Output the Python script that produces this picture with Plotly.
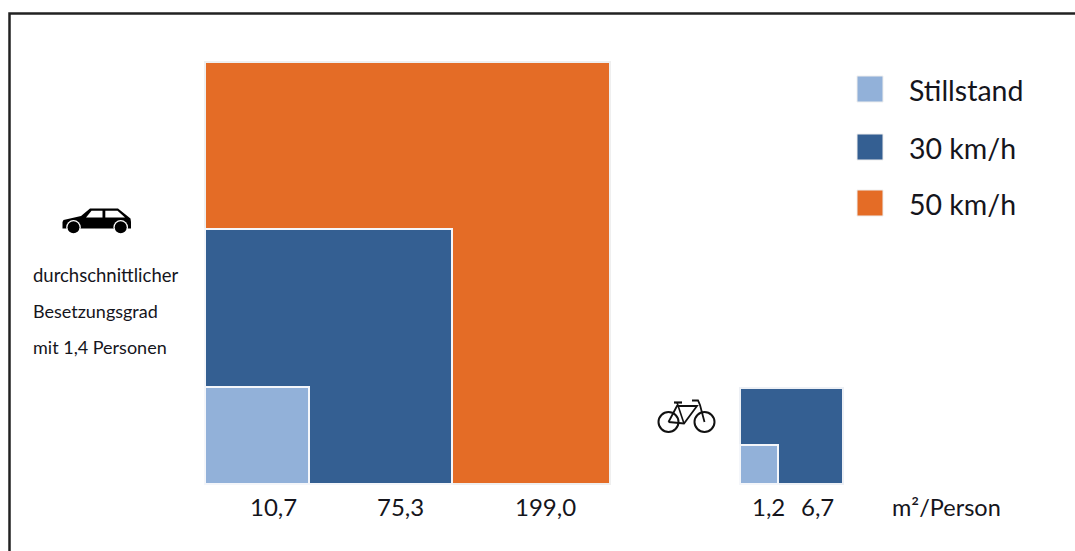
import plotly.graph_objects as go

W, H = 1075, 551

# Values printed in the chart (m2/person)
car_labels = [10.7, 75.3, 199.0]
bike_labels = [1.2, 6.7]
series_names = ["Stillstand", "30 km/h", "50 km/h"]
colors = ["#92B1D9", "#345F92", "#E46C26"]

# Drawn side lengths (chart units)
car_widths = [3.62, 8.62, 14.11]
car_heights = [3.24, 8.53, 14.11]
bike_widths = [1.32, 3.59]
bike_heights = [1.30, 3.21]
bike_start = 18.64

X_PER = 28.7
Y_PER = 29.9
X0_PX, Y0_PX = 205, 484


def px(x):
    return x / W


def py(y):
    return 1 - y / H


fig = go.Figure()


def add_square(x0, w, h, color, line_color, name):
    fig.add_trace(go.Bar(
        x=[x0 + w / 2], y=[h], width=[w], base=0, name=name,
        marker=dict(color=color, line=dict(color=line_color, width=2)),
        showlegend=False, hoverinfo="name",
    ))


add_square(0, car_widths[2], car_heights[2], colors[2], "#EFEFEF", series_names[2])
add_square(0, car_widths[1], car_heights[1], colors[1], "#F4F6FA", series_names[1])
add_square(0, car_widths[0], car_heights[0], colors[0], "#F4F6FA", series_names[0])
add_square(bike_start, bike_widths[1], bike_heights[1], colors[1], "#EDF0F5", series_names[1])
add_square(bike_start, bike_widths[0], bike_heights[0], colors[0], "#F4F6FA", series_names[0])

shapes = []
annotations = []


def text(s, x, y, size, anchor="left"):
    annotations.append(dict(
        text=s, x=px(x), y=py(y), xref="paper", yref="paper", showarrow=False,
        xanchor=anchor, yanchor="middle",
        font=dict(family="Lato, Carlito, sans-serif", size=size, color="#15151C"),
    ))


def poly(points, fill="black", line=None, lw=0, close=True):
    d = "M" + " L".join(f"{px(a)},{py(b)}" for a, b in points) + (" Z" if close else "")
    shapes.append(dict(
        type="path", path=d, xref="paper", yref="paper", layer="above",
        fillcolor=fill if close else "rgba(0,0,0,0)",
        line=dict(color=line or "rgba(0,0,0,0)", width=lw),
    ))


def circle(cx, cy, r, fill="rgba(0,0,0,0)", line=None, lw=0):
    shapes.append(dict(
        type="circle", xref="paper", yref="paper", layer="above",
        x0=px(cx - r), x1=px(cx + r), y0=py(cy + r), y1=py(cy - r),
        fillcolor=fill, line=dict(color=line or "rgba(0,0,0,0)", width=lw),
    ))


# Frame (top and left only; continues off the picture)
poly([(9.5, H), (9.5, 13.5), (W, 13.5)], line="#222222", lw=2.5, close=False)

# Legend
for name, col, y in zip(series_names, colors, [89, 147, 203]):
    shapes.append(dict(
        type="rect", xref="paper", yref="paper", layer="above",
        x0=px(857), x1=px(883), y0=py(y + 13), y1=py(y - 13),
        fillcolor=col, line=dict(color="#EEEEEE", width=1),
    ))
    text(name, 907, y + 1, 28.5)

# Value labels
for v, x in zip(car_labels, [273, 400, 545]):
    text(f"{v:.1f}".replace(".", ","), x, 506.5, 24, "center")
for v, x in zip(bike_labels, [768, 817]):
    text(f"{v:.1f}".replace(".", ","), x, 506.5, 24, "center")
text("m²/Person", 890, 506.5, 23.5)

# Left caption
text("durchschnittlicher", 31, 275, 18.5)
text("Besetzungsgrad", 31, 311, 18)
text("mit 1,4 Personen", 31, 347, 18)

# Car icon
poly([(62.5, 222), (63.5, 220), (81, 216), (90, 208.5), (118, 208.5), (130.5, 218.5),
      (131, 222), (131, 228.5), (62.5, 228.5)])
poly([(86, 217.5), (91.5, 210.8), (102.5, 210.8), (102.5, 217.5)], fill="white")
poly([(105.3, 210.8), (117.5, 210.8), (125, 217.5), (105.3, 217.5)], fill="white")
for cx in (73.5, 120.7):
    circle(cx, 227.3, 7.3, fill="white")
    circle(cx, 227.3, 6, fill="black")

# Bicycle icon
circle(668.5, 422, 10, line="#111111", lw=2)
circle(704.5, 422, 10, line="#111111", lw=2)
poly([(668.5, 422), (677, 406), (697, 406), (684, 423.5), (668.5, 422)], line="#111111", lw=1.8, close=False)
poly([(674, 402.5), (682, 402.5)], line="#111111", lw=2.2, close=False)
poly([(677, 402.5), (684, 423.5)], line="#111111", lw=1.6, close=False)
poly([(692, 400.5), (698, 400.5), (700, 405), (704.5, 422)], line="#111111", lw=1.8, close=False)

fig.update_layout(
    width=W, height=H, margin=dict(l=0, r=0, t=0, b=0),
    paper_bgcolor="white", plot_bgcolor="white",
    barmode="overlay", bargap=0, showlegend=False,
    shapes=shapes, annotations=annotations,
    xaxis=dict(visible=False, range=[-X0_PX / X_PER, (W - X0_PX) / X_PER], fixedrange=True),
    yaxis=dict(visible=False, range=[-(H - Y0_PX) / Y_PER, Y0_PX / Y_PER], fixedrange=True),
)

fig.write_html("out.html", config={"displayModeBar": False},
               post_script="document.body.style.margin='0';")
